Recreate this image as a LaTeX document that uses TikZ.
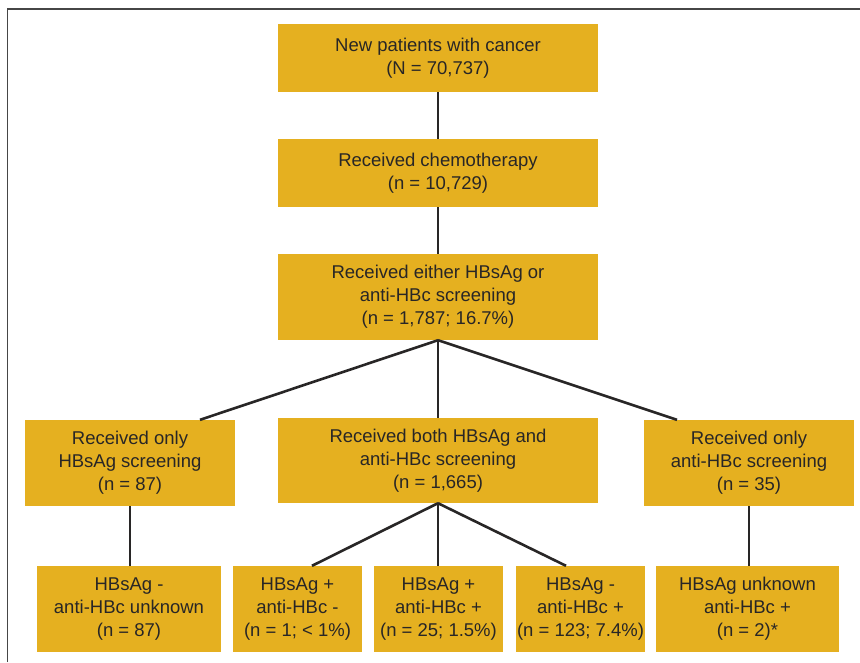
\documentclass[tikz,border=0pt]{standalone}
\usepackage{fontspec}
\setmainfont{Liberation Sans}
\definecolor{boxfill}{RGB}{229,176,32}
\definecolor{ink}{RGB}{40,38,38}
\definecolor{framegray}{RGB}{70,70,70}
\begin{document}
\begin{tikzpicture}[x=1pt,y=-1pt,
  box/.style={fill=boxfill, text=ink, align=center, inner sep=0pt,
    font=\fontsize{18.5}{23}\selectfont},
  link/.style={draw=ink, line width=2.6pt}]
\useasboundingbox (0,0) rectangle (860,662);
\draw[framegray, line width=1.8pt] (7.5,662) -- (7.5,9) -- (860,9);
\node[box, minimum width=320pt, minimum height=68pt] (n1) at (438,58) {New patients with cancer\\(N = 70,737)};
\node[box, minimum width=320pt, minimum height=68pt] (n2) at (438,173) {Received chemotherapy\\(n = 10,729)};
\node[box, minimum width=320pt, minimum height=86pt] (n3) at (438,297) {Received either HBsAg or\\anti-HBc screening\\(n = 1,787; 16.7\%)};
\node[box, minimum width=210pt, minimum height=86pt] (L) at (130,463) {Received only\\HBsAg screening\\(n = 87)};
\node[box, minimum width=320pt, minimum height=85pt] (M) at (438,460.5) {Received both HBsAg and\\anti-HBc screening\\(n = 1,665)};
\node[box, minimum width=210pt, minimum height=86pt] (R) at (749,463) {Received only\\anti-HBc screening\\(n = 35)};
\node[box, minimum width=184pt, minimum height=86pt] (b1) at (129,609) {HBsAg -\\anti-HBc unknown\\(n = 87)};
\node[box, minimum width=129pt, minimum height=86pt] (b2) at (297.5,609) {HBsAg +\\anti-HBc -\\(n = 1; < 1\%)};
\node[box, minimum width=129pt, minimum height=86pt] (b3) at (438.5,609) {HBsAg +\\anti-HBc +\\(n = 25; 1.5\%)};
\node[box, minimum width=129pt, minimum height=86pt] (b4) at (580.5,609) {HBsAg -\\anti-HBc +\\(n = 123; 7.4\%)};
\node[box, minimum width=183pt, minimum height=86pt] (b5) at (747.5,609) {HBsAg unknown\\anti-HBc +\\(n = 2)*};
\begin{scope}[on background layer/.try]
\end{scope}
\draw[link] (n1.south) -- (n2.north);
\draw[link] (n2.south) -- (n3.north);
\draw[link] (n3.south) -- ([xshift=70pt]L.north);
\draw[link] (n3.south) -- (M.north);
\draw[link] (n3.south) -- ([xshift=-72pt]R.north);
\draw[link] (L.south) -- (L.south |- b1.north);
\draw[link] (R.south) -- (R.south |- b5.north);
\draw[link] (M.south) -- ([xshift=14.5pt]b2.north);
\draw[link] (M.south) -- (M.south |- b3.north);
\draw[link] (M.south) -- ([xshift=-14.5pt]b4.north);
\end{tikzpicture}
\end{document}
